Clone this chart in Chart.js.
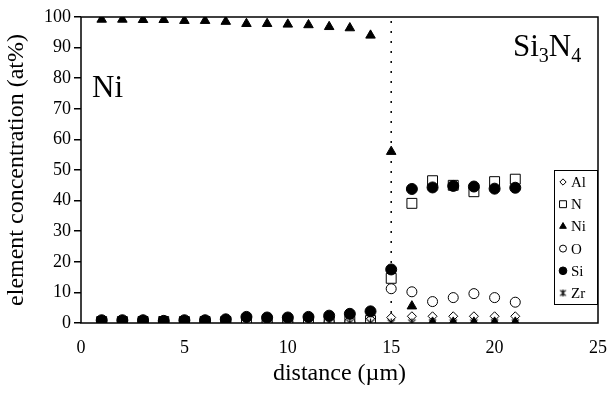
<!DOCTYPE html>
<html>
<head>
<meta charset="utf-8">
<script src="https://cdn.jsdelivr.net/npm/chart.js@4/dist/chart.umd.min.js"></script>
<style>
  body { margin: 0; background: #fff; }
  #wrap { width: 613px; height: 395px; }
</style>
</head>
<body>
<div id="wrap"><canvas id="myChart"></canvas></div>
<script>
// distance (um) of every measuring point
const distance = [1, 2, 3, 4, 5, 6, 7, 8, 9, 10, 11, 12, 13, 14, 15, 16, 17, 18, 19, 20, 21];
// element concentrations (at%)
const al = [0.2, 0.2, 0.2, 0.2, 0.2, 0.2, 0.2, 0.2, 0.2, 0.2, 0.2, 0.2, 0.2, 0.3, 1.8, 2.2, 2.2, 2.2, 2.2, 2.2, 2.2];
const n  = [0.5, 0.5, 0.5, 0.5, 0.5, 0.5, 0.5, 0.6, 0.6, 0.6, 0.6, 0.6, 0.6, 0.8, 14.6, 39.1, 46.5, 45.0, 42.9, 46.2, 47.0];
const ni = [99.2, 99.2, 99.1, 99.1, 98.8, 98.8, 98.5, 97.8, 97.8, 97.6, 97.4, 96.8, 96.4, 94.0, 56.0, 5.5, 0.2, 0.2, 0.2, 0.2, 0.2];
const o  = [0.3, 0.3, 0.3, 0.3, 0.3, 0.3, 0.3, 0.3, 0.3, 0.3, 0.3, 0.3, 0.3, 0.5, 11.2, 10.2, 7.0, 8.3, 9.6, 8.3, 6.8];
const si = [0.9, 0.9, 0.9, 0.7, 0.9, 0.9, 1.2, 2.0, 1.8, 1.8, 2.0, 2.4, 3.0, 3.8, 17.5, 43.8, 44.3, 44.8, 44.6, 43.9, 44.2];
const zr = [0, 0, 0, 0, 0, 0, 0, 0, 0, 0, 0, 0, 0, 0, 0, 0, 0, 0, 0, 0, 0];
// interface position
const interfaceX = [15, 15];
const interfaceY = [0, 100];
const xTicks = [0, 5, 10, 15, 20, 25];

const serif = "'Liberation Serif', 'Times New Roman', serif";

const pts = (ys) => ys.map((y, i) => ({ x: distance[i], y: y }));

// excel style star: an x with a vertical stroke
function starMark(size) {
  const c = document.createElement("canvas");
  c.width = size; c.height = size;
  const g = c.getContext("2d");
  const h = size / 2, r = size / 2 - 1;
  g.strokeStyle = "#000";
  g.lineWidth = 1.2;
  g.beginPath();
  g.moveTo(h - r * 0.8, h - r * 0.8); g.lineTo(h + r * 0.8, h + r * 0.8);
  g.moveTo(h + r * 0.8, h - r * 0.8); g.lineTo(h - r * 0.8, h + r * 0.8);
  g.moveTo(h, h - r); g.lineTo(h, h + r);
  g.stroke();
  return c;
}
const zrMark = starMark(11);
const zrLegendMark = starMark(9);

const series = [
  { label: "Al", data: al, style: "rectRot", r: 4.5, fill: "#fff" },
  { label: "N",  data: n,  style: "rect",    r: 7,   fill: "#fff" },
  { label: "Ni", data: ni, style: "triangle", r: 5.5, fill: "#000" },
  { label: "O",  data: o,  style: "circle",  r: 5,   fill: "#fff" },
  { label: "Si", data: si, style: "circle",  r: 5.5, fill: "#000" },
  { label: "Zr", data: zr, style: zrMark,    r: 5,   fill: "#000" },
];

const datasets = series.map((s, i) => ({
  label: s.label,
  data: pts(s.data),
  pointStyle: s.style,
  pointRadius: s.r,
  pointBackgroundColor: s.fill,
  pointBorderColor: "#000",
  pointBorderWidth: 1,
  showLine: false,
  order: 10 - i,
}));

datasets.push({
  label: "interface",
  data: interfaceX.map((x, i) => ({ x: x, y: interfaceY[i] })),
  showLine: true,
  borderColor: "#000",
  borderWidth: 1.5,
  borderDash: [2, 8],
  pointRadius: 0,
  order: 20,
});

// frame, legend box and text labels
const decor = {
  id: "decor",
  afterDatasetsDraw(chart) {
    const ctx = chart.ctx;
    const a = chart.chartArea;
    ctx.save();
    ctx.strokeStyle = "#000";
    ctx.lineWidth = 1.5;
    ctx.strokeRect(a.left, a.top, a.right - a.left, a.bottom - a.top);

    // legend
    const lx = 554, ly = 170, lw = 43, lh = 134;
    ctx.lineWidth = 1;
    ctx.fillStyle = "#fff";
    ctx.fillRect(lx, ly, lw, lh);
    ctx.strokeRect(lx + 0.5, ly + 0.5, lw, lh);
    ctx.font = "15px " + serif;
    ctx.textBaseline = "middle";
    series.forEach((s, i) => {
      const y = ly + 12 + i * 22.2;
      ctx.fillStyle = s.fill;
      ctx.strokeStyle = "#000";
      const style = s.label === "Zr" ? zrLegendMark : s.style;
      Chart.helpers.drawPoint(ctx, {
        pointStyle: style, radius: s.r * 0.7, rotation: 0, borderWidth: 1
      }, lx + 9, y);
      ctx.fillStyle = "#000";
      ctx.fillText(s.label, lx + 17, y + 1);
    });

    // region labels
    ctx.textBaseline = "alphabetic";
    ctx.font = "31px " + serif;
    ctx.fillText("Ni", 92, 97);
    let x = 513;
    ctx.fillText("Si", x, 56);
    x += ctx.measureText("Si").width;
    ctx.font = "20px " + serif;
    ctx.fillText("3", x, 62);
    x += ctx.measureText("3").width;
    ctx.font = "31px " + serif;
    ctx.fillText("N", x, 56);
    x += ctx.measureText("N").width;
    ctx.font = "20px " + serif;
    ctx.fillText("4", x, 62);
    ctx.restore();
  }
};

const ctx = document.getElementById("myChart").getContext("2d");
new Chart(ctx, {
  type: "scatter",
  data: { datasets: datasets },
  options: {
    responsive: true,
    maintainAspectRatio: false,
    animation: false,
    layout: { padding: { top: 17, right: 11, left: 0, bottom: 0 } },
    plugins: { legend: { display: false }, tooltip: { enabled: false } },
    scales: {
      x: {
        type: "linear",
        min: 0,
        max: 25,
        afterBuildTicks: (s) => { s.ticks = xTicks.map((v) => ({ value: v })); },
        afterFit: (s) => { s.height = 72; },
        grid: { display: false },
        border: { display: false },
        ticks: { color: "#000", padding: 6, maxRotation: 0, font: { family: serif, size: 18 } },
        title: {
          display: true,
          text: "distance (\u00b5m)",
          color: "#000",
          padding: { top: 7, bottom: 7 },
          font: { family: serif, size: 24 },
        },
      },
      y: {
        min: 0,
        max: 100,
        afterFit: (s) => { s.width = 81; },
        grid: { display: true, drawOnChartArea: false, tickLength: 7, color: "#000", lineWidth: 1.5 },
        border: { display: false },
        ticks: { stepSize: 10, color: "#000", padding: 3, font: { family: serif, size: 18 } },
        title: {
          display: true,
          text: "element concentration (at%)",
          color: "#000",
          padding: { top: 2, bottom: 2 },
          font: { family: serif, size: 24 },
        },
      },
    },
  },
  plugins: [decor],
});
</script>
</body>
</html>
